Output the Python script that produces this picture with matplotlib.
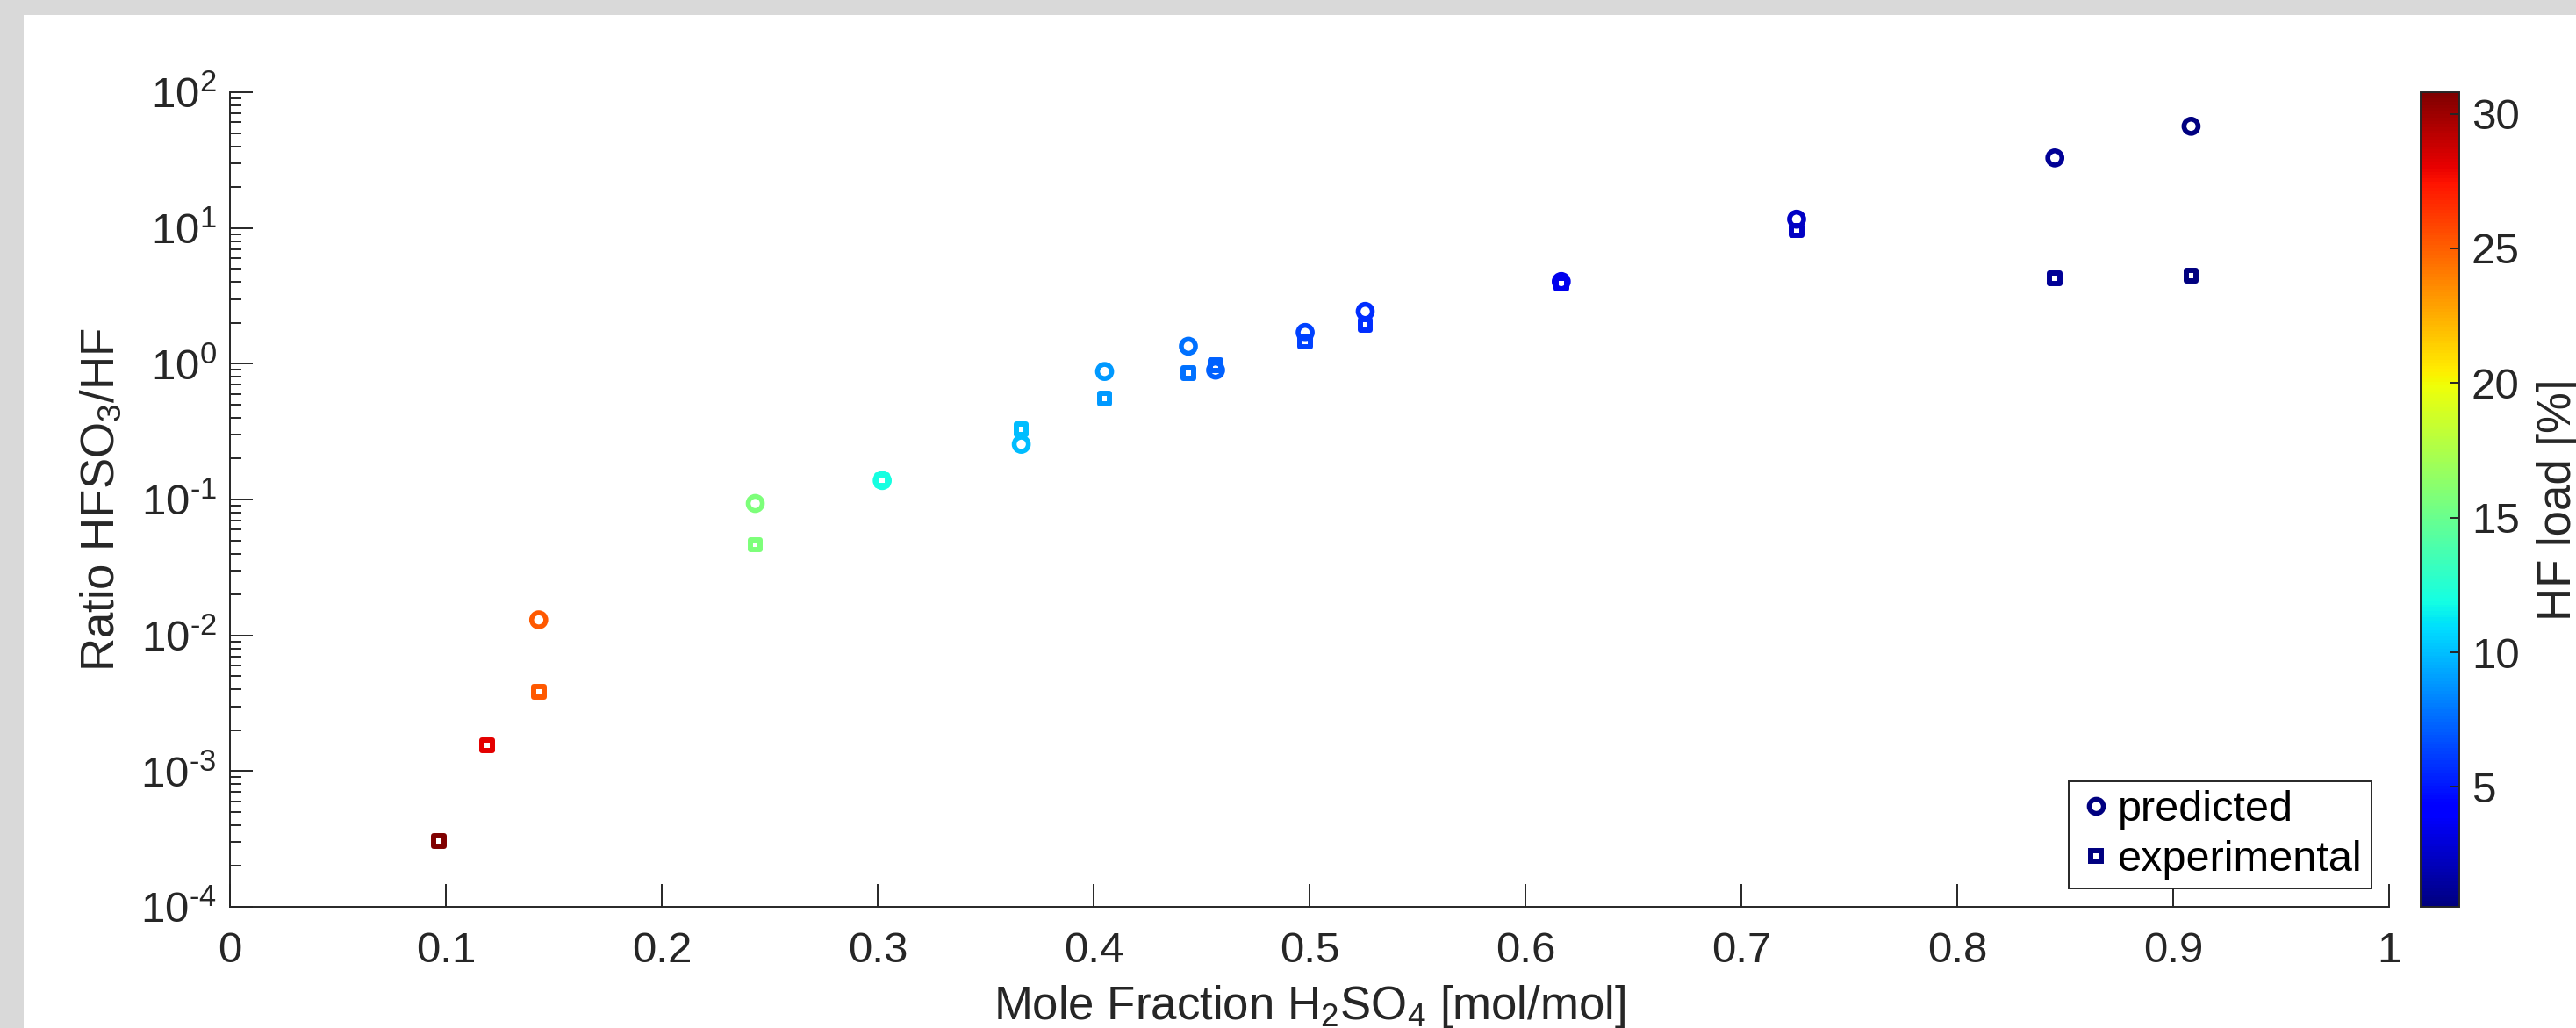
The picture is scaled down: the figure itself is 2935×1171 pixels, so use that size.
import numpy as np
import matplotlib.pyplot as plt
import matplotlib as mpl
from matplotlib.patches import Rectangle
from matplotlib.lines import Line2D

plt.rcParams['font.family'] = ['Liberation Sans', 'DejaVu Sans']
plt.rcParams['mathtext.fontset'] = 'custom'
plt.rcParams['mathtext.rm'] = 'Liberation Sans'
plt.rcParams['mathtext.it'] = 'Liberation Sans:italic'
plt.rcParams['mathtext.bf'] = 'Liberation Sans:bold'
plt.rcParams['axes.unicode_minus'] = False

# data
mole_frac = [0.0967, 0.1191, 0.1430, 0.2433, 0.3021, 0.3665, 0.4051, 0.4439,
             0.4565, 0.4980, 0.5258, 0.6166, 0.7256, 0.8452, 0.9083]
predicted = [np.nan, np.nan, 0.0130, 0.0935, 0.138, 0.255, 0.877, 1.345,
             0.897, 1.70, 2.43, 4.03, 11.6, 32.8, 56.1]
experimental = [3.06e-4, 1.55e-3, 3.83e-3, 0.0464, 0.138, 0.331, 0.556, 0.853,
                0.98, 1.455, 1.93, 3.90, 9.6, 4.26, 4.47]
hf_load = [30.8, 28.1, 25.2, 15.7, 11.9, 9.9, 8.9, 7.7,
           7.2, 6.3, 5.7, 3.5, 2.4, 1.2, 0.55]

x_ticks = [0, 0.1, 0.2, 0.3, 0.4, 0.5, 0.6, 0.7, 0.8, 0.9, 1]
x_tick_labels = ['0', '0.1', '0.2', '0.3', '0.4', '0.5', '0.6', '0.7', '0.8', '0.9', '1']
y_ticks = [1e-4, 1e-3, 1e-2, 1e-1, 1e0, 1e1, 1e2]
cb_ticks = [5, 10, 15, 20, 25, 30]

W, H = 2935, 1171
dark = '#262626'
tick_fs = 35.5
legend_fs = 35
label_fs = 38


def log_label(v, pos):
    e = int(round(np.log10(v)))
    if e < 0:
        return r'$\mathdefault{10^{\text{-}%d}}$' % (-e)
    return r'$\mathdefault{10^{%d}}$' % e


fig = plt.figure(figsize=(W / 100, H / 100), dpi=100)
fig.patch.set_facecolor('#d9d9d9')
fig.patches.append(Rectangle((27 / W, 0), 1 - 27 / W, 1 - 17 / H,
                             transform=fig.transFigure, facecolor='white',
                             edgecolor='none', zorder=-10))

ax = fig.add_axes([262 / W, 1 - 1033 / H, 2460 / W, 928 / H])
cax = fig.add_axes([2758 / W, 1 - 1033 / H, 44 / W, 928 / H])

cmap = mpl.colormaps['jet']
norm = plt.Normalize(min(hf_load), max(hf_load))
colors = cmap(norm(hf_load))

ax.scatter(mole_frac, experimental, marker='s', s=8.5 ** 2, facecolors='none',
           edgecolors=colors, linewidths=4.3, zorder=2)
ax.scatter(mole_frac, predicted, marker='o', s=11.6 ** 2, facecolors='none',
           edgecolors=colors, linewidths=4.0, zorder=3)

ax.set_yscale('log')
ax.set_xlim(0, 1)
ax.set_ylim(1e-4, 1e2)
ax.set_xticks(x_ticks)
ax.set_xticklabels(x_tick_labels)
ax.set_yticks(y_ticks)
ax.yaxis.set_major_formatter(mpl.ticker.FuncFormatter(log_label))
ax.yaxis.set_minor_locator(mpl.ticker.LogLocator(base=10, subs=np.arange(2, 10)))
ax.yaxis.set_minor_formatter(mpl.ticker.NullFormatter())

for side in ['top', 'right']:
    ax.spines[side].set_visible(False)
for side in ['left', 'bottom']:
    ax.spines[side].set_color(dark)
    ax.spines[side].set_linewidth(1.4)

ax.tick_params(axis='both', which='both', direction='in', color=dark,
               width=1.4, labelcolor=dark, labelsize=tick_fs)
ax.tick_params(axis='both', which='major', length=18.5)
ax.tick_params(axis='y', which='minor', length=9)
ax.tick_params(axis='x', pad=20)
ax.tick_params(axis='y', pad=11)

ax.set_xlabel(r'Mole Fraction H$_2$SO$_4$ [mol/mol]', fontsize=label_fs,
              color=dark, labelpad=10)
ax.set_ylabel(r'Ratio HFSO$_3$/HF', fontsize=label_fs, color=dark, labelpad=14)

navy = cmap(0.0)
handles = [
    Line2D([], [], ls='none', marker='o', ms=11.6, mew=4.0, mfc='none', mec=navy),
    Line2D([], [], ls='none', marker='s', ms=8.5, mew=4.3, mfc='none', mec=navy),
]
leg = ax.legend(handles, ['predicted', 'experimental'], loc='lower right',
                bbox_to_anchor=(0.9917, 0.0226), borderaxespad=0,
                fancybox=False, edgecolor=dark, framealpha=1,
                fontsize=legend_fs, borderpad=0.2, handlelength=0.85,
                handletextpad=0.1, labelspacing=0.25)
leg.get_frame().set_linewidth(1.4)

sm = mpl.cm.ScalarMappable(norm=norm, cmap=cmap)
cb = fig.colorbar(sm, cax=cax)
cb.set_ticks(cb_ticks)
cb.outline.set_edgecolor(dark)
cb.outline.set_linewidth(1.4)
cb.ax.tick_params(direction='in', length=7, width=1.4, color=dark,
                  labelcolor=dark, labelsize=tick_fs, pad=10)
cb.set_label('HF load [%]', fontsize=label_fs, color=dark, labelpad=14)

fig.savefig('out.png', dpi=100, facecolor=fig.get_facecolor())
